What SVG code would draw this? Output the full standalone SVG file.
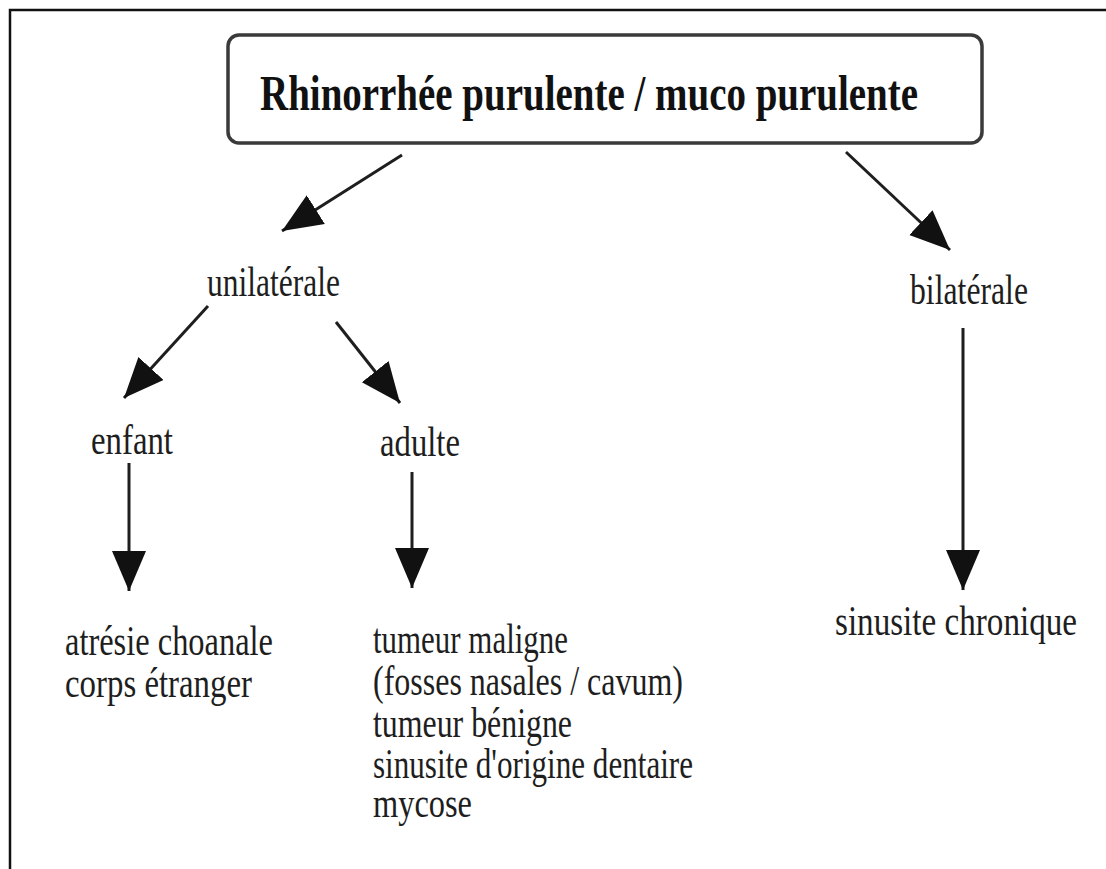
<svg xmlns="http://www.w3.org/2000/svg" width="1106" height="869" viewBox="0 0 1106 869">
<defs>
<style>
.t{font-family:"Liberation Serif","Times New Roman",serif;font-size:42px;fill:#1e1e1e}
.title{font-family:"Liberation Serif","Times New Roman",serif;font-size:50px;font-weight:bold;fill:#111}
.c{stroke:#1e1e1e;stroke-width:3;fill:none;marker-end:url(#ah)}
</style>
<marker id="ah" markerUnits="userSpaceOnUse" markerWidth="42" markerHeight="36" refX="40" refY="17" orient="auto">
<path d="M0,0 L40,17 L0,34 z" fill="#111"/>
</marker>
</defs>
<rect width="1106" height="869" fill="#fff"/>
<path d="M10,869 L10,10 L1106,10" stroke="#111" stroke-width="2.5" fill="none"/>
<g id="root">
<rect x="228" y="35" width="754" height="108" rx="11" fill="#fff" stroke="#3a3a3a" stroke-width="3.5"/>
<text class="title" x="260" y="110" textLength="658" lengthAdjust="spacingAndGlyphs">Rhinorrhée purulente / muco purulente</text>
</g>
<g id="unilaterale"><text class="t" x="207" y="296" textLength="133" lengthAdjust="spacingAndGlyphs">unilatérale</text></g>
<g id="bilaterale"><text class="t" x="910" y="304" textLength="118" lengthAdjust="spacingAndGlyphs">bilatérale</text></g>
<g id="enfant"><text class="t" x="91" y="454" textLength="82" lengthAdjust="spacingAndGlyphs">enfant</text></g>
<g id="adulte"><text class="t" x="380" y="456" textLength="80" lengthAdjust="spacingAndGlyphs">adulte</text></g>
<g id="enfant-causes">
<text class="t" x="65" y="655" textLength="208" lengthAdjust="spacingAndGlyphs">atrésie choanale</text>
<text class="t" x="65" y="697" textLength="187" lengthAdjust="spacingAndGlyphs">corps étranger</text>
</g>
<g id="adulte-causes">
<text class="t" x="373" y="653" textLength="195" lengthAdjust="spacingAndGlyphs">tumeur maligne</text>
<text class="t" x="373" y="695" textLength="310" lengthAdjust="spacingAndGlyphs">(fosses nasales / cavum)</text>
<text class="t" x="373" y="737" textLength="199" lengthAdjust="spacingAndGlyphs">tumeur bénigne</text>
<text class="t" x="373" y="778" textLength="320" lengthAdjust="spacingAndGlyphs">sinusite d'origine dentaire</text>
<text class="t" x="373" y="817" textLength="99" lengthAdjust="spacingAndGlyphs">mycose</text>
</g>
<g id="bilaterale-causes"><text class="t" x="835" y="635" textLength="242" lengthAdjust="spacingAndGlyphs">sinusite chronique</text></g>
<g id="connectors">
<line class="c" x1="402" y1="155" x2="282" y2="231"/>
<line class="c" x1="846" y1="152" x2="950" y2="250"/>
<line class="c" x1="208" y1="306" x2="124" y2="398"/>
<line class="c" x1="336" y1="322" x2="400" y2="403"/>
<line class="c" x1="129" y1="463" x2="129" y2="591"/>
<line class="c" x1="412" y1="472" x2="412" y2="588"/>
<line class="c" x1="963" y1="328" x2="963" y2="590"/>
</g>
</svg>
